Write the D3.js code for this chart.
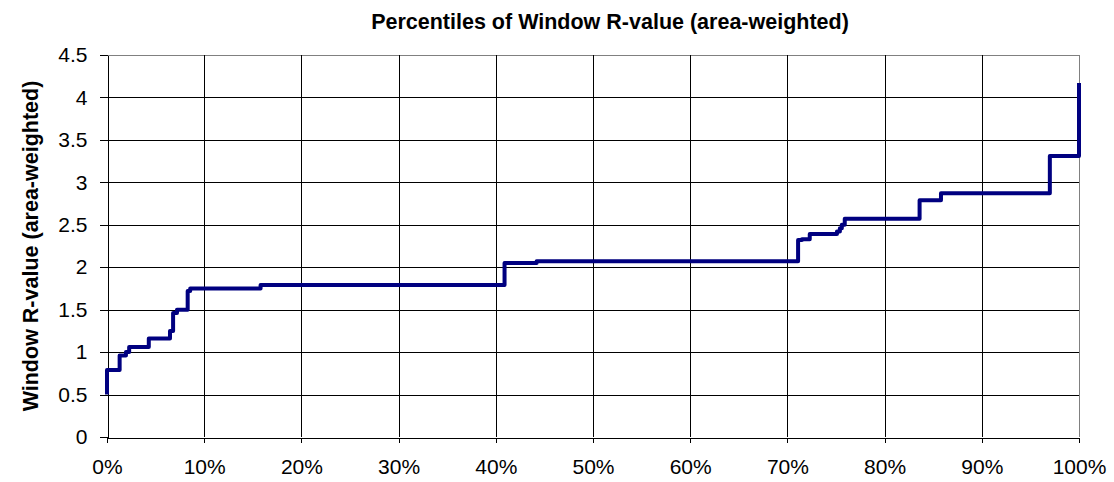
<!DOCTYPE html>
<html>
<head>
<meta charset="utf-8">
<script src="https://cdn.jsdelivr.net/npm/d3@7"></script>
<style>
  body { margin: 0; background: #fff; }
  text { font-family: "Liberation Sans", Arial, sans-serif; }
</style>
</head>
<body>
<svg id="chart" width="1114" height="482"></svg>
<script>
// percentile (x) where each level starts, and the R-value level (y)
let pctData = [0, 0, 1.3, 1.95, 2.28, 4.3, 6.48, 6.8, 7.2, 8.3, 8.56, 15.8, 40.9, 44.2, 71.1, 71.5, 72.3, 75.1, 75.4, 75.6, 75.9, 83.6, 85.8, 97.0, 100, 100]
let rData = [0.5, 0.79, 0.96, 1.0, 1.06, 1.16, 1.25, 1.46, 1.5, 1.72, 1.75, 1.79, 2.05, 2.07, 2.32, 2.33, 2.39, 2.42, 2.46, 2.5, 2.57, 2.79, 2.87, 3.31, 3.31, 4.17]

let xTicks = [0, 10, 20, 30, 40, 50, 60, 70, 80, 90, 100]
let yTicks = [0, 0.5, 1, 1.5, 2, 2.5, 3, 3.5, 4, 4.5]

let chartTitle = "Percentiles of Window R-value (area-weighted)"
let yTitle = "Window R-value (area-weighted)"

let svg = d3.select("#chart")

let plotLeft = 107, plotRight = 1079, plotTop = 55, plotBottom = 437

let xScale = d3.scaleLinear().domain([0, 100]).range([plotLeft, plotRight])
let yScale = d3.scaleLinear().domain([0, 4.5]).range([plotBottom, plotTop])

// gridlines
svg.append("g")
    .selectAll("line")
    .data(yTicks.slice(1))
    .enter()
    .append("line")
    .attr("x1", plotLeft)
    .attr("x2", plotRight)
    .attr("y1", d => Math.round(yScale(d)) + 0.5)
    .attr("y2", d => Math.round(yScale(d)) + 0.5)
    .attr("stroke", d => d == 4.5 ? "#808080" : "#000")
    .attr("stroke-width", 1)

svg.append("g")
    .selectAll("line")
    .data(xTicks.slice(1))
    .enter()
    .append("line")
    .attr("x1", d => Math.round(xScale(d)) + 0.5)
    .attr("x2", d => Math.round(xScale(d)) + 0.5)
    .attr("y1", plotTop)
    .attr("y2", plotBottom)
    .attr("stroke", d => d == 100 ? "#808080" : "#000")
    .attr("stroke-width", 1)

// axes
let xAxis = d3.axisBottom(xScale)
    .tickValues(xTicks)
    .tickFormat(d => d + "%")
    .tickSize(5)
    .tickSizeOuter(0)
    .tickPadding(17)

let yAxis = d3.axisLeft(yScale)
    .tickValues(yTicks)
    .tickFormat(d => d)
    .tickSize(8)
    .tickSizeOuter(0)
    .tickPadding(12)

let gx = svg.append("g")
    .attr("transform", "translate(0," + (Math.round(plotBottom) + 0.5) + ")")
    .call(xAxis)

let gy = svg.append("g")
    .attr("transform", "translate(" + (Math.round(plotLeft) + 0.5) + ",0)")
    .call(yAxis)

gx.selectAll("text").style("font-size", "21px").attr("fill", "#000")
gy.selectAll("text").style("font-size", "21px").attr("fill", "#000")
gx.selectAll("line, path").attr("stroke", "#000").attr("shape-rendering", "crispEdges")
gy.selectAll("line, path").attr("stroke", "#000").attr("shape-rendering", "crispEdges")

// the percentile line
let line = d3.line()
    .x(d => xScale(d[0]))
    .y(d => yScale(d[1]))
    .curve(d3.curveStepAfter)

svg.append("path")
    .datum(pctData.map((p, i) => [p, rData[i]]))
    .attr("d", line)
    .attr("fill", "none")
    .attr("stroke", "#000080")
    .attr("stroke-width", 4)
    .attr("stroke-linejoin", "round")

// titles
svg.append("text")
    .attr("x", 610)
    .attr("y", 29)
    .attr("text-anchor", "middle")
    .style("font-size", "21.5px")
    .style("font-weight", "bold")
    .text(chartTitle)

svg.append("text")
    .attr("transform", "translate(38," + ((plotTop + plotBottom) / 2) + ") rotate(-90)")
    .attr("text-anchor", "middle")
    .style("font-size", "21.5px")
    .style("font-weight", "bold")
    .text(yTitle)
</script>
</body>
</html>
